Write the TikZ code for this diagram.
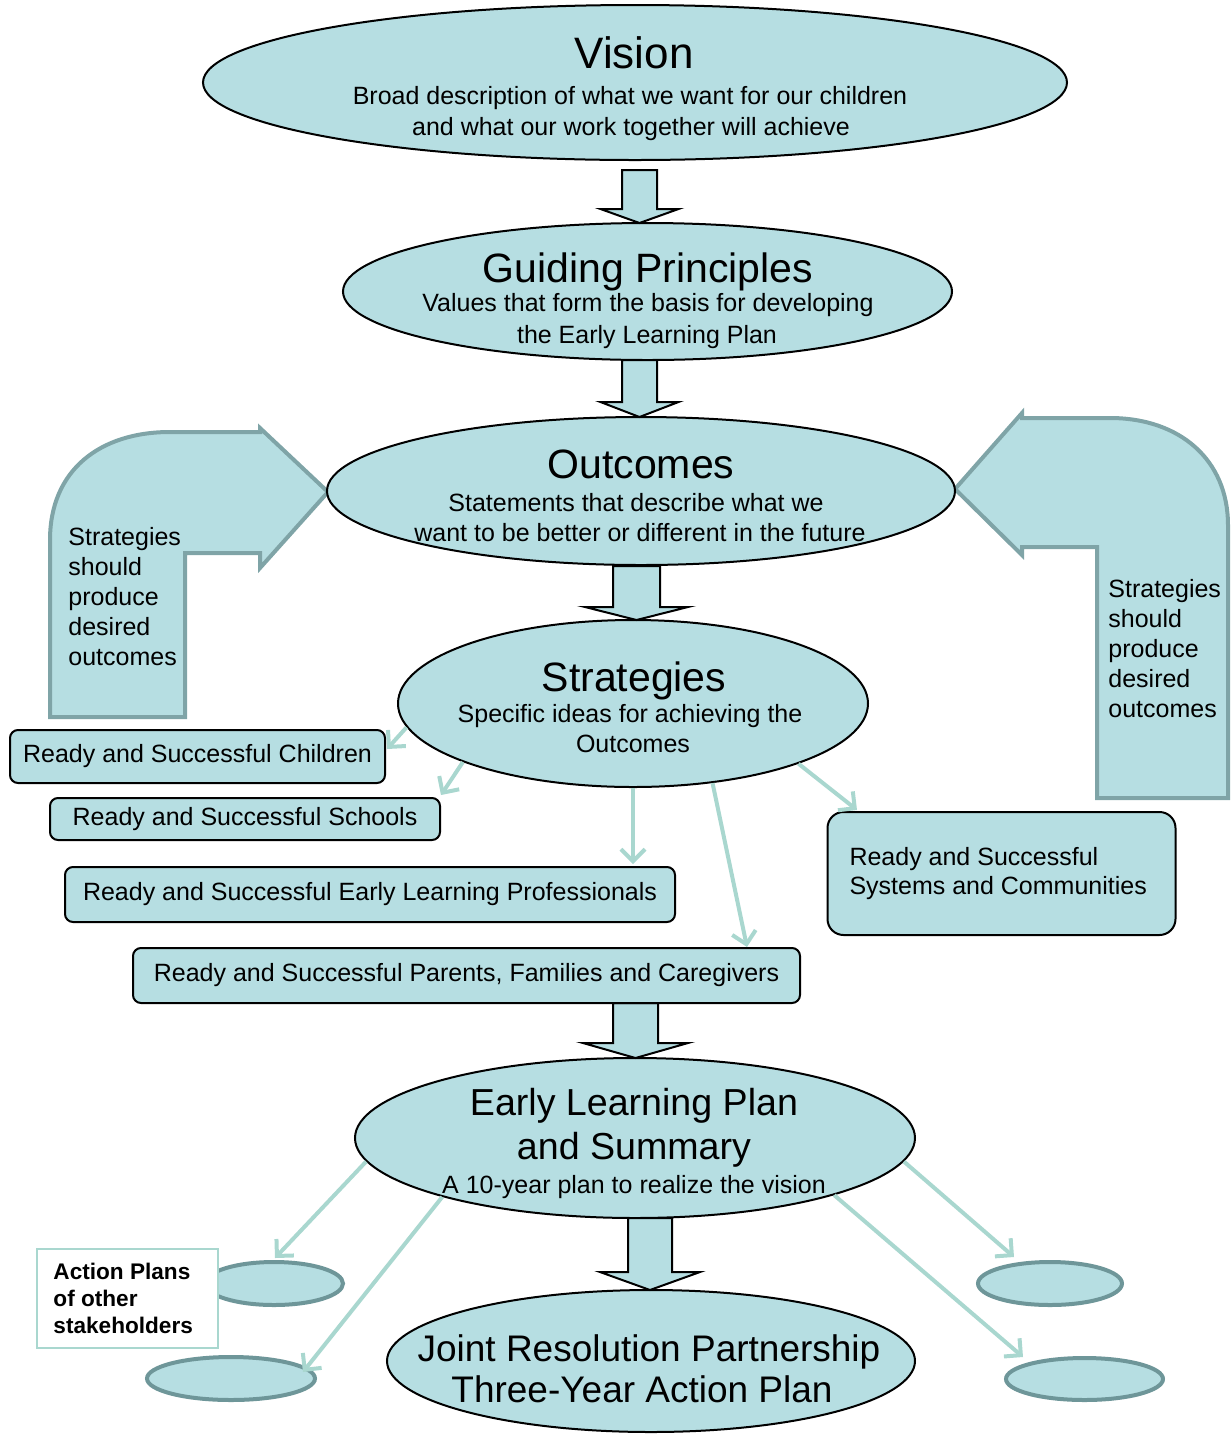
\documentclass[tikz,border=0pt]{standalone}
\usepackage{fontspec}
\setmainfont{Liberation Sans}
\usetikzlibrary{shapes.geometric,arrows.meta,calc}
\definecolor{fillc}{HTML}{B6DEE2}
\definecolor{bentc}{HTML}{7FA4A7}
\definecolor{smallc}{HTML}{6E9699}
\definecolor{lightarr}{HTML}{A9D7CF}
\tikzset{
  bigell/.style={ellipse, draw=black, line width=1pt, fill=fillc, inner sep=0pt},
  smell/.style={ellipse, draw=smallc, line width=2pt, fill=fillc, inner sep=0pt},
  rbox/.style={draw=black, line width=1pt, rounded corners=4pt, fill=fillc, inner sep=0pt, font=\fontsize{12.5}{15}\selectfont},
  blk/.style={draw=black, line width=1pt, fill=fillc, line join=miter},
  bent/.style={draw=bentc, line width=2pt, fill=fillc},
  thinarr/.style={draw=lightarr, line width=2pt, -{Straight Barb[length=6pt,width=12pt,line width=2pt]}},
  ttl/.style={inner sep=0pt, anchor=base, font=\fontsize{20.5}{24}\selectfont},
  ttlsm/.style={inner sep=0pt, anchor=base, font=\fontsize{18.5}{22}\selectfont},
  bdy/.style={inner sep=0pt, anchor=base, font=\fontsize{12.5}{15}\selectfont},
  sidetxt/.style={inner sep=0pt, anchor=north west, align=left, font=\fontsize{12.5}{15}\selectfont},
}
\newcommand\barrow[6]{\draw[blk] (#1-#5,#2) -- (#1+#5,#2) -- (#1+#5,#3) -- (#1+#6,#3) -- (#1,#4) -- (#1-#6,#3) -- (#1-#5,#3) -- cycle;}
\begin{document}
\begin{tikzpicture}[x=0.5pt,y=-0.5pt]
\useasboundingbox (0,0) rectangle (1232,1437);

% bent side arrows
\draw[bent] (328,492) -- (260,568) -- (260,553) -- (185,553) -- (185,717) -- (50,717) -- (50,540)
  .. controls (50,470) and (100,432) .. (170,432) -- (260,432) -- (260,428) -- cycle;
\draw[bent] (955,489) -- (1022,413) -- (1022,418) -- (1110,418)
  .. controls (1180,418) and (1228,460) .. (1228,525) -- (1228,798) -- (1097,798) -- (1097,547) -- (1022,547) -- (1022,555) -- cycle;
\node[sidetxt] (lefttxt) at (68,527) {Strategies\\should\\produce\\desired\\outcomes};
\node[sidetxt] (righttxt) at (1108,579) {Strategies\\should\\produce\\desired\\outcomes};

% main ellipses
\node[bigell, minimum width=432pt, minimum height=77.5pt] (vision) at (635,82.5) {};
\node[bigell, minimum width=304.5pt, minimum height=68.5pt] (guide) at (647.5,291.5) {};
\node[bigell, minimum width=314pt, minimum height=74pt] (outc) at (641,491) {};
\node[bigell, minimum width=235pt, minimum height=83.5pt] (strat) at (633,703.5) {};
\node[bigell, minimum width=280pt, minimum height=80pt] (elp) at (635,1138) {};
\node[bigell, minimum width=264pt, minimum height=71pt] (jrp) at (651,1361) {};

% texts in ellipses
\node[ttl, font=\fontsize{22}{26}\selectfont] (vt) at (634,68) {Vision};
\node[bdy] (v1) at (630,104) {Broad description of what we want for our children};
\node[bdy] (v2) at (631,135) {and what our work together will achieve};

\node[ttl] (gt) at (648,282) {Guiding Principles};
\node[bdy] (g1) at (648,311) {Values that form the basis for developing};
\node[bdy] (g2) at (647,343) {the Early Learning Plan};

\node[ttl] (ot) at (641,478) {Outcomes};
\node[bdy] (o1) at (636,511) {Statements that describe what we};
\node[bdy] (o2) at (640,541) {want to be better or different in the future};

\node[ttl] (st) at (634,691) {Strategies};
\node[bdy] (s1) at (630,722) {Specific ideas for achieving the};
\node[bdy] (s2) at (633,752) {Outcomes};

\node[ttlsm, font=\fontsize{18.8}{22}\selectfont] (et) at (634,1115) {Early Learning Plan};
\node[ttlsm, font=\fontsize{18.8}{22}\selectfont] (e2) at (634,1159) {and Summary};
\node[bdy] (e3) at (634,1193) {A 10-year plan to realize the vision};

\node[ttlsm] (jt) at (649,1361) {Joint Resolution Partnership};
\node[ttlsm] (j2) at (642,1402) {Three-Year Action Plan};

% block arrows
\barrow{639.5}{170}{209}{223}{17.5}{39}
\barrow{639.5}{360}{402}{417}{17.5}{39}
\barrow{636.5}{566}{607}{620}{23.5}{51.5}
\barrow{635.5}{1003}{1043}{1058}{22.5}{52.5}
\barrow{650}{1218}{1272}{1290}{22}{50}

% strategy boxes
\node[rbox, minimum width=187.5pt, minimum height=26.5pt] (child) at (197.5,756.5) {Ready and Successful Children};
\node[rbox, minimum width=195pt, minimum height=21pt] (school) at (245,819) {Ready and Successful Schools};
\node[rbox, minimum width=305pt, minimum height=27.5pt] (prof) at (370,894.5) {Ready and Successful Early Learning Professionals};
\node[rbox, minimum width=333.5pt, minimum height=27.5pt] (parent) at (466.5,975.5) {Ready and Successful Parents, Families and Caregivers};
\node[rbox, rounded corners=8pt, minimum width=173.5pt, minimum height=61.5pt, text width=152pt, inner xsep=11pt, align=flush left, font=\fontsize{12.5}{14.5}\selectfont] (system) at (1001.5,873.5) {Ready and Successful\\Systems and Communities};

% light arrows from strategies
\coordinate (tchild) at (387,749);
\coordinate (tschool) at (441,795);
\coordinate (tparent) at (747,947);
\coordinate (tsystem) at (857,810);
\draw[thinarr] (strat.186) -- (tchild);
\draw[thinarr] (strat.199) -- (tschool);
\draw[thinarr] (strat.south) -- ($(strat.south |- prof.north)+(0,-2)$);
\draw[thinarr] (strat.-45) -- (tparent);
\draw[thinarr] (strat.-20) -- (tsystem);

% small ellipses
\node[smell, minimum width=69pt, minimum height=21.5pt] (l1) at (274,1283.5) {};
\node[smell, minimum width=84pt, minimum height=21.5pt] (l2) at (231,1378.5) {};
\node[smell, minimum width=72pt, minimum height=21.5pt] (r1) at (1050,1283.5) {};
\node[smell, minimum width=78.5pt, minimum height=21pt] (r2) at (1084.5,1379) {};

\node[draw=lightarr, line width=1pt, fill=white, minimum width=90.5pt, minimum height=49.5pt, text width=74pt, inner xsep=8pt, inner ysep=0pt, align=flush left, font=\bfseries\fontsize{11.3}{13.5}\selectfont] (action) at (127.5,1298.5) {Action Plans\\of other\\stakeholders};

% light arrows from ELP
\coordinate (tl1) at (275,1258);
\coordinate (tl2) at (303,1372);
\coordinate (tr1) at (1014,1257);
\coordinate (tr2) at (1023,1357);
\draw[thinarr] (elp.185) -- (tl1);
\draw[thinarr] (elp.197) -- (tl2);
\draw[thinarr] (elp.-5) -- (tr1);
\draw[thinarr] (elp.-16) -- (tr2);
\end{tikzpicture}
\end{document}
